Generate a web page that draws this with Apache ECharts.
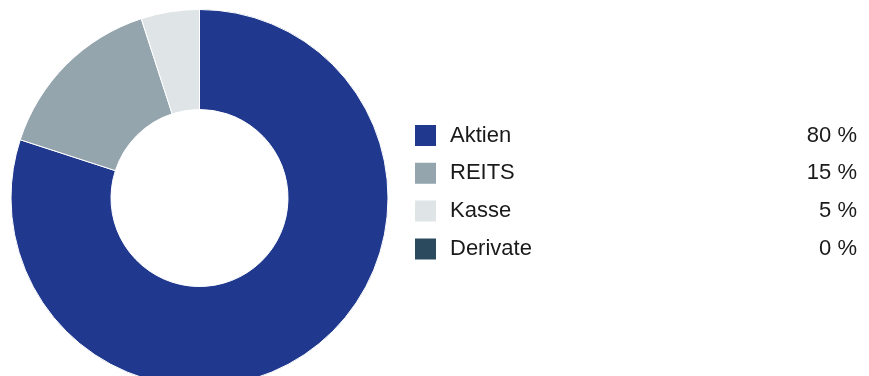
<!DOCTYPE html>
<html>
<head>
<meta charset="utf-8">
<style>
html,body{margin:0;padding:0;background:#fff;}
#c{width:869px;height:376px;}
</style>
<script src="https://cdn.jsdelivr.net/npm/echarts@6/dist/echarts.min.js"></script>
</head>
<body>
<div id="c"></div>
<script>
var categories = ['Aktien', 'REITS', 'Kasse', 'Derivate'];
var values = [80, 15, 5, 0];
var valueLabels = ['80 %', '15 %', '5 %', '0 %'];
var colors = ['#20398f', '#95a5ae', '#dfe4e7', '#2b4a5e'];

var chart = echarts.init(document.getElementById('c'), null, {renderer: 'canvas'});
var data = categories.map(function (n, i) {
  return { name: n, value: values[i], itemStyle: { color: colors[i] } };
});
chart.setOption({
  animation: false,
  legend: {
    orient: 'vertical',
    left: 413,
    top: 123,
    padding: 0,
    icon: 'rect',
    itemWidth: 23,
    itemHeight: 23,
    itemGap: 12.8,
    selectedMode: false,
    data: categories,
    formatter: function (name) {
      var i = categories.indexOf(name);
      return '{n|' + name + '}{v|' + valueLabels[i] + '}';
    },
    textStyle: {
      fontFamily: 'Liberation Sans, Arial, sans-serif',
      fontSize: 22,
      color: '#1a1a1a',
      rich: {
        n: { width: 343, padding: [0, 0, 0, 8], fontSize: 22, lineHeight: 23, color: '#1a1a1a', fontFamily: 'Liberation Sans, Arial, sans-serif' },
        v: { width: 64, align: 'right', fontSize: 22, lineHeight: 23, color: '#1a1a1a', fontFamily: 'Liberation Sans, Arial, sans-serif' }
      }
    }
  },
  series: [{
    type: 'pie',
    center: [199.5, 198],
    radius: [88.5, 188.5],
    startAngle: 90,
    clockwise: true,
    silent: true,
    label: { show: false },
    labelLine: { show: false },
    itemStyle: { borderColor: '#ffffff', borderWidth: 1 },
    data: data
  }]
});
</script>
</body>
</html>
